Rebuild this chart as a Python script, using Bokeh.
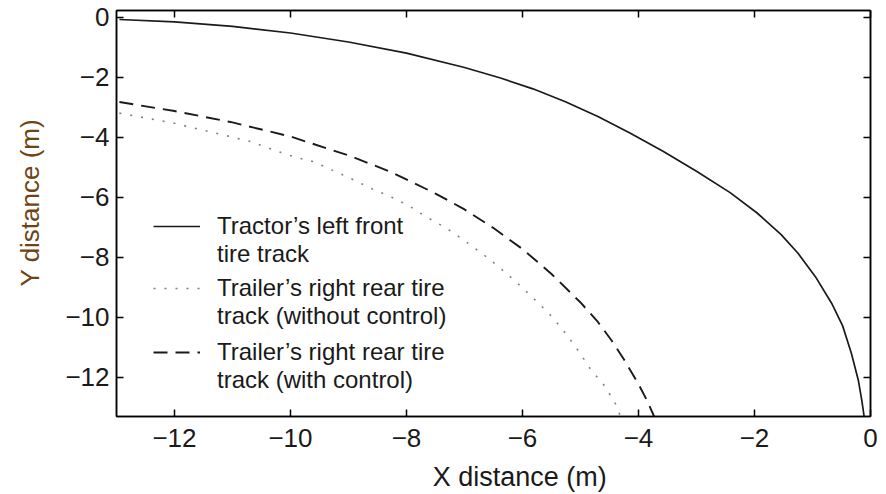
from bokeh.plotting import figure
from bokeh.models import LinearAxis, Legend, LegendItem, FixedTicker
from bokeh.embed import file_html
from bokeh.resources import INLINE

# ---- data ----
tractor_x = [-12.95, -12.0, -11.0, -10.0, -9.0, -8.0, -7.0, -6.38, -5.82, -5.26, -4.70, -4.14, -3.57, -3.0,
             -2.42, -1.96, -1.54, -1.25, -0.95, -0.66, -0.48, -0.33, -0.21, -0.15, -0.11]
tractor_y = [-0.07, -0.15, -0.30, -0.52, -0.82, -1.19, -1.67, -2.02, -2.38, -2.81, -3.30, -3.86, -4.47, -5.13,
             -5.84, -6.51, -7.24, -7.86, -8.64, -9.56, -10.28, -11.19, -12.09, -12.76, -13.3]

noctrl_x = [-12.95, -12.0, -10.68, -10.29, -9.95, -9.60, -9.28, -8.97, -8.62, -8.28, -7.98, -7.67, -7.36, -7.19,
            -6.90, -6.60, -6.29, -6.0, -5.73, -5.48, -5.24, -5.03, -4.82, -4.58, -4.39, -4.31]
noctrl_y = [-3.19, -3.53, -4.14, -4.42, -4.64, -4.81, -5.09, -5.36, -5.69, -5.97, -6.25, -6.64, -6.97, -7.18,
            -7.58, -8.01, -8.51, -9.01, -9.51, -10.0, -10.57, -11.13, -11.74, -12.29, -12.9, -13.3]

ctrl_x = [-12.95, -12.0, -11.0, -10.0, -9.0, -8.28, -7.5, -7.0, -6.5, -6.0, -5.5, -5.0,
          -4.70, -4.47, -4.25, -4.0, -3.85, -3.73]
ctrl_y = [-2.82, -3.12, -3.50, -3.97, -4.60, -5.14, -5.87, -6.40, -7.02, -7.72, -8.55, -9.50,
          -10.15, -10.75, -11.40, -12.22, -12.78, -13.3]

x_ticks = [-12, -10, -8, -6, -4, -2, 0]
y_ticks = [0, -2, -4, -6, -8, -10, -12]
x_tick_labels = {t: ("\u2212" + str(abs(t)) if t < 0 else str(t)) for t in x_ticks}
y_tick_labels = {t: ("\u2212" + str(abs(t)) if t < 0 else str(t)) for t in y_ticks}

legend_lines = [("Tractor\u2019s left front", "tire track"),
                ("Trailer\u2019s right rear tire", "track (without control)"),
                ("Trailer\u2019s right rear tire", "track (with control)")]

FONT = "Liberation Sans"
INK = "#1a1a1a"
NBSP = "\u00a0"

p = figure(width=886, height=494, x_range=(-13, 0), y_range=(-13.3, 0.23),
           output_backend="svg", toolbar_location=None,
           min_border_left=116, min_border_right=16, min_border_top=10, min_border_bottom=77,
           x_axis_location=None, y_axis_location=None)
p.grid.visible = False
p.outline_line_color = "black"
p.outline_line_width = 1.5
p.background_fill_color = "white"
p.border_fill_color = "white"

r1 = p.line(tractor_x, tractor_y, line_color=INK, line_width=1.7)
r2 = p.line(noctrl_x, noctrl_y, line_color="#808080", line_width=1.6, line_dash="2 9")
r3 = p.line(ctrl_x, ctrl_y, line_color=INK, line_width=1.9, line_dash="14 8")


def make_axis(labels_visible, overrides):
    ax = LinearAxis(ticker=FixedTicker(ticks=list(overrides.keys())))
    ax.axis_line_color = "black"
    ax.axis_line_width = 1.5
    ax.major_tick_in = 7
    ax.major_tick_out = 0
    ax.major_tick_line_width = 1.5
    ax.minor_tick_line_color = None
    ax.major_label_overrides = overrides
    ax.major_label_text_font = FONT
    if labels_visible:
        ax.major_label_text_font_size = "26px"
        ax.major_label_text_color = INK
        ax.major_label_standoff = 12
    else:
        ax.major_label_text_font_size = "1px"
        ax.major_label_text_alpha = 0
        ax.major_label_standoff = 0
    return ax

xb = make_axis(True, x_tick_labels)
xb.axis_label = NBSP * 7 + "X distance (m)"
xb.axis_label_text_font = FONT
xb.axis_label_text_font_size = "27px"
xb.axis_label_text_font_style = "normal"
xb.axis_label_text_color = INK
xb.axis_label_standoff = 12
xt = make_axis(False, x_tick_labels)
yl = make_axis(True, y_tick_labels)
yl.major_label_standoff = 7
yl.axis_label = NBSP * 3 + "Y distance (m)"
yl.axis_label_text_font = FONT
yl.axis_label_text_font_size = "26px"
yl.axis_label_text_font_style = "normal"
yl.axis_label_text_color = "#6e4415"
yl.axis_label_standoff = 17
yr = make_axis(False, y_tick_labels)
p.add_layout(xb, "below")
p.add_layout(xt, "above")
p.add_layout(yl, "left")
p.add_layout(yr, "right")

# legend: one block per series, glyph aligned with first text line
for (line1, line2), rend, ypos in zip(legend_lines, [r1, r2, r3], [148, 86, 22]):
    leg = Legend(items=[LegendItem(label=line1, renderers=[rend]),
                        LegendItem(label=line2, renderers=[])],
                 location=(37, ypos), orientation="vertical")
    leg.border_line_color = None
    leg.background_fill_alpha = 0
    leg.label_text_font = FONT
    leg.label_text_font_size = "24px"
    leg.label_text_line_height = 1.0
    leg.label_text_color = INK
    leg.label_height = 20
    leg.glyph_width = 47
    leg.glyph_height = 20
    leg.label_standoff = 17
    leg.spacing = -3
    leg.padding = 0
    leg.margin = 0
    p.add_layout(leg)

open("out.html", "w").write(file_html(p, INLINE))
